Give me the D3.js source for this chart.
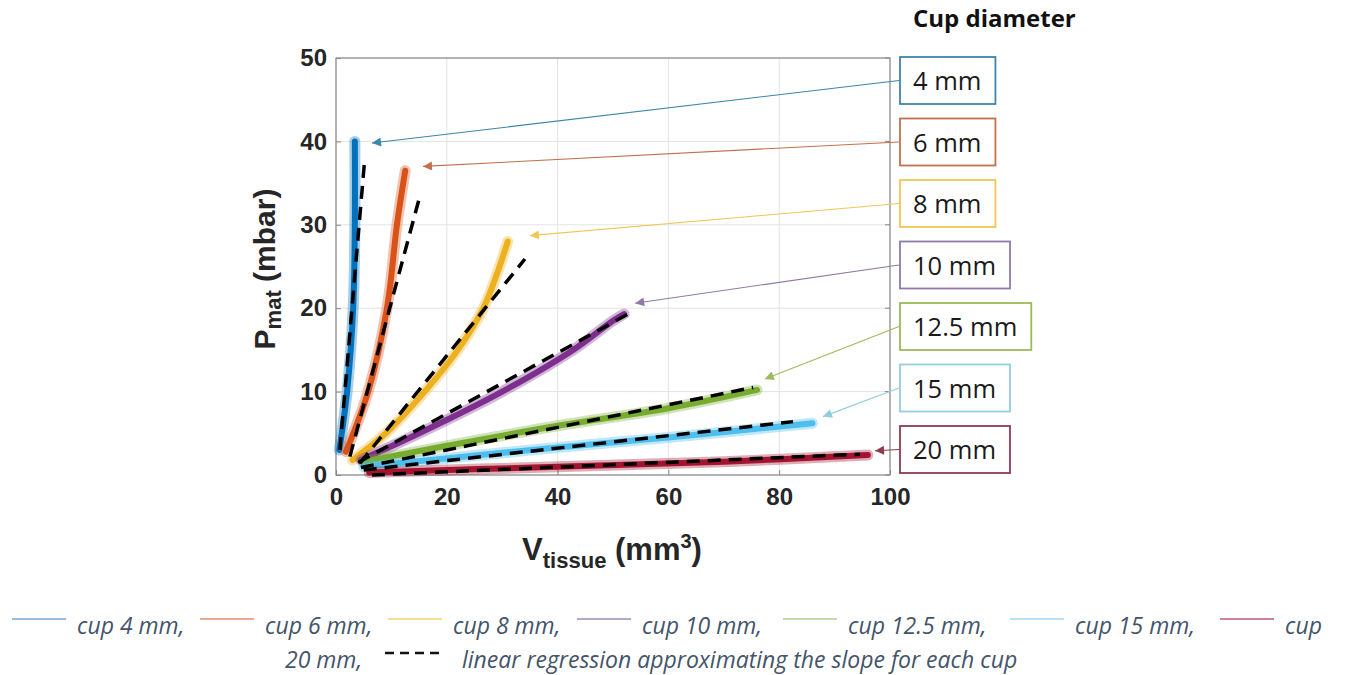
<!DOCTYPE html>
<html>
<head>
<meta charset="utf-8">
<script src="https://cdn.jsdelivr.net/npm/d3@7"></script>
<style>
  body { margin: 0; background: #fff; }
  svg { display: block; }
</style>
</head>
<body>
<svg id="chart" width="1354" height="675"></svg>
<script>
const cups = ["4 mm", "6 mm", "8 mm", "10 mm", "12.5 mm", "15 mm", "20 mm"];
const cup4 = [[0.6, 3], [2.0, 10], [3.1, 20], [3.4, 30], [3.4, 40]];
const cup6 = [[1.8, 2.8], [5.8, 10], [9.2, 20], [11.0, 30], [12.5, 36.5]];
const cup8 = [[3.0, 1.8], [9.0, 5], [16.0, 10], [22.0, 15], [26.6, 20], [29.0, 24], [31.0, 28]];
const cup10 = [[4.5, 1.8], [15.0, 5], [30.0, 10], [42.8, 15], [50.0, 18.5], [52.0, 19.3]];
const cup12 = [[4.9, 1.6], [20.0, 3.5], [40.0, 5.9], [60.0, 8.0], [76.0, 10.2]];
const cup15 = [[5.0, 1.0], [40.0, 3.3], [60.0, 4.5], [86.0, 6.2]];
const cup20 = [[6.0, 0.3], [40.0, 1.0], [70.0, 1.6], [96.0, 2.4]];
const series = [cup4, cup6, cup8, cup10, cup12, cup15, cup20];

// regression lines: start and end point for each cup
const regStart = [[0.7, 3.0], [2.5, 2.2], [4.3, 1.4], [4.0, 1.5], [4.5, 0.9], [5.0, 0.6], [6.5, 0.0]];
const regEnd = [[5.2, 38.0], [15.0, 33.1], [34.1, 25.9], [53.0, 19.4], [75.3, 10.5], [82.5, 6.4], [94.6, 2.5]];

// arrow tips of the annotations (data units)
const arrowTips = [[6.5, 39.8], [15.7, 37.0], [35.0, 28.7], [54.0, 20.6], [77.4, 11.5], [87.9, 7.0], [97.3, 2.9]];

const xTicks = [0, 20, 40, 60, 80, 100];
const yTicks = [0, 10, 20, 30, 40, 50];

const colors = ["#0072BD", "#D95319", "#EDB120", "#7E2F8E", "#77AC30", "#4DBEEE", "#A2142F"];
const boxColors = ["#3c86a8", "#c2714e", "#f0c654", "#9179a6", "#9bbb59", "#93cddd", "#8e3b50"];
const legendColors = ["#6fa8d6", "#ee8a6f", "#f3d46e", "#a08ab4", "#b3cf8a", "#9fd9ea", "#b85a6e"];

const svg = d3.select("#chart");
svg.append("rect").attr("width", 1354).attr("height", 675).attr("fill", "#fff");

const x = d3.scaleLinear().domain([0, 100]).range([336, 890]);
const y = d3.scaleLinear().domain([0, 50]).range([475, 58]);

// grid
svg.append("g").selectAll("line").data(xTicks).enter().append("line")
  .attr("x1", d => x(d)).attr("x2", d => x(d))
  .attr("y1", y(0)).attr("y2", y(50))
  .attr("stroke", "#e3e3e3").attr("stroke-width", 1);
svg.append("g").selectAll("line").data(yTicks).enter().append("line")
  .attr("y1", d => y(d)).attr("y2", d => y(d))
  .attr("x1", x(0)).attr("x2", x(100))
  .attr("stroke", "#e3e3e3").attr("stroke-width", 1);

// axes
const xAxis = svg.append("g")
  .attr("transform", "translate(0," + y(0) + ")")
  .call(d3.axisBottom(x).tickValues(xTicks).tickSizeInner(-5).tickSizeOuter(0).tickPadding(13));
const yAxis = svg.append("g")
  .attr("transform", "translate(" + x(0) + ",0)")
  .call(d3.axisLeft(y).tickValues(yTicks).tickSizeInner(-5).tickSizeOuter(0).tickPadding(9));
[xAxis, yAxis].forEach(a => {
  a.select(".domain").remove();
  a.selectAll("line").attr("stroke", "#888");
  a.selectAll("text")
    .attr("fill", "#262626")
    .style("font-family", "'Liberation Sans', Arial, sans-serif")
    .style("font-weight", "bold")
    .style("font-size", "24px");
});
// right side ticks
svg.append("g").selectAll("line").data(yTicks).enter().append("line")
  .attr("x1", x(100)).attr("x2", x(100) - 5)
  .attr("y1", d => y(d)).attr("y2", d => y(d))
  .attr("stroke", "#888");

// box
svg.append("rect")
  .attr("x", x(0)).attr("y", y(50))
  .attr("width", x(100) - x(0)).attr("height", y(0) - y(50))
  .attr("fill", "none").attr("stroke", "#8a8a8a").attr("stroke-width", 1.2);

// measured curves
const line = d3.line().x(d => x(d[0])).y(d => y(d[1])).curve(d3.curveCatmullRom);
series.forEach((s, i) => {
  svg.append("path").datum(s)
    .attr("d", line)
    .attr("fill", "none")
    .attr("stroke", colors[i])
    .attr("stroke-opacity", 0.35)
    .attr("stroke-width", 11)
    .attr("stroke-linecap", "round");
  svg.append("path").datum(s)
    .attr("d", line)
    .attr("fill", "none")
    .attr("stroke", colors[i])
    .attr("stroke-width", 6)
    .attr("stroke-linecap", "round");
});

// regression lines
regStart.forEach((p, i) => {
  svg.append("line")
    .attr("x1", x(p[0])).attr("y1", y(p[1]))
    .attr("x2", x(regEnd[i][0])).attr("y2", y(regEnd[i][1]))
    .attr("stroke", "#000")
    .attr("stroke-width", 3.5)
    .attr("stroke-dasharray", "13,8");
});

// annotation arrows and boxes
const defs = svg.append("defs");
colors.forEach((c, i) => {
  defs.append("marker")
    .attr("id", "arr" + i)
    .attr("viewBox", "0 0 10 10")
    .attr("refX", 10).attr("refY", 5)
    .attr("markerWidth", 11).attr("markerHeight", 9)
    .attr("markerUnits", "userSpaceOnUse")
    .attr("orient", "auto")
    .append("path").attr("d", "M0,0 L10,5 L0,10 Z")
    .attr("fill", boxColors[i]);
});

const boxFont = "'Open Sans', 'Noto Sans', sans-serif";
cups.forEach((label, i) => {
  const top = 57 + i * 61.5;
  const mid = top + 23.5;
  svg.append("line")
    .attr("x1", 899).attr("y1", mid)
    .attr("x2", x(arrowTips[i][0])).attr("y2", y(arrowTips[i][1]))
    .attr("stroke", boxColors[i]).attr("stroke-width", 1.1)
    .attr("marker-end", "url(#arr" + i + ")");
  const g = svg.append("g");
  const r = g.append("rect");
  const t = g.append("text")
    .attr("x", 913).attr("y", mid + 9.5)
    .attr("fill", "#1a1a1a")
    .style("font-family", boxFont)
    .style("font-size", "25.5px")
    .text(label);
  const w = t.node().getComputedTextLength();
  r.attr("x", 900).attr("y", top)
    .attr("width", w + 27).attr("height", 47)
    .attr("fill", "#fff")
    .attr("stroke", boxColors[i]).attr("stroke-width", 1.8);
});

svg.append("text")
  .attr("x", 913).attr("y", 27)
  .attr("fill", "#111")
  .style("font-family", boxFont)
  .style("font-weight", "bold")
  .style("font-size", "24px")
  .text("Cup diameter");

// axis labels
const labFont = "'Liberation Sans', Arial, sans-serif";
const xl = svg.append("text")
  .attr("x", 612).attr("y", 560)
  .attr("text-anchor", "middle")
  .attr("fill", "#262626")
  .style("font-family", labFont).style("font-weight", "bold").style("font-size", "31px");
xl.append("tspan").text("V");
xl.append("tspan").attr("dy", 8).style("font-size", "22px").text("tissue");
xl.append("tspan").attr("dy", -8).text(" (mm");
xl.append("tspan").attr("dy", -12).style("font-size", "20px").text("3");
xl.append("tspan").attr("dy", 12).text(")");

const yl = svg.append("text")
  .attr("transform", "translate(275,269) rotate(-90)")
  .attr("text-anchor", "middle")
  .attr("fill", "#262626")
  .style("font-family", labFont).style("font-weight", "bold").style("font-size", "30px");
yl.append("tspan").text("P");
yl.append("tspan").attr("dy", 6).style("font-size", "22px").text("mat");
yl.append("tspan").attr("dy", -6).text(" (mbar)");

// caption legend
const legFont = "'Open Sans', 'Noto Sans', sans-serif";
const legStyle = sel => sel.attr("fill", "#44546A")
  .style("font-family", legFont).style("font-style", "italic").style("font-size", "23px");
const legendX = [12, 200, 388, 577, 783, 1010, 1220];
const legendText = ["cup 4 mm,", "cup 6 mm,", "cup 8 mm,", "cup 10 mm,", "cup 12.5 mm,", "cup 15 mm,", "cup"];
legendText.forEach((txt, i) => {
  svg.append("line")
    .attr("x1", legendX[i]).attr("x2", legendX[i] + 54)
    .attr("y1", 619).attr("y2", 619)
    .attr("stroke", legendColors[i]).attr("stroke-width", 1.6);
  svg.append("text")
    .attr("x", legendX[i] + 65).attr("y", 634)
    .call(legStyle)
    .text(txt);
});
svg.append("text")
  .attr("x", 285).attr("y", 668)
  .call(legStyle)
  .text("20 mm,");
svg.append("line")
  .attr("x1", 385).attr("x2", 441)
  .attr("y1", 653).attr("y2", 653)
  .attr("stroke", "#111").attr("stroke-width", 2.5)
  .attr("stroke-dasharray", "9,6");
svg.append("text")
  .attr("x", 462).attr("y", 668)
  .call(legStyle)
  .text("linear regression approximating the slope for each cup");
</script>
</body>
</html>
